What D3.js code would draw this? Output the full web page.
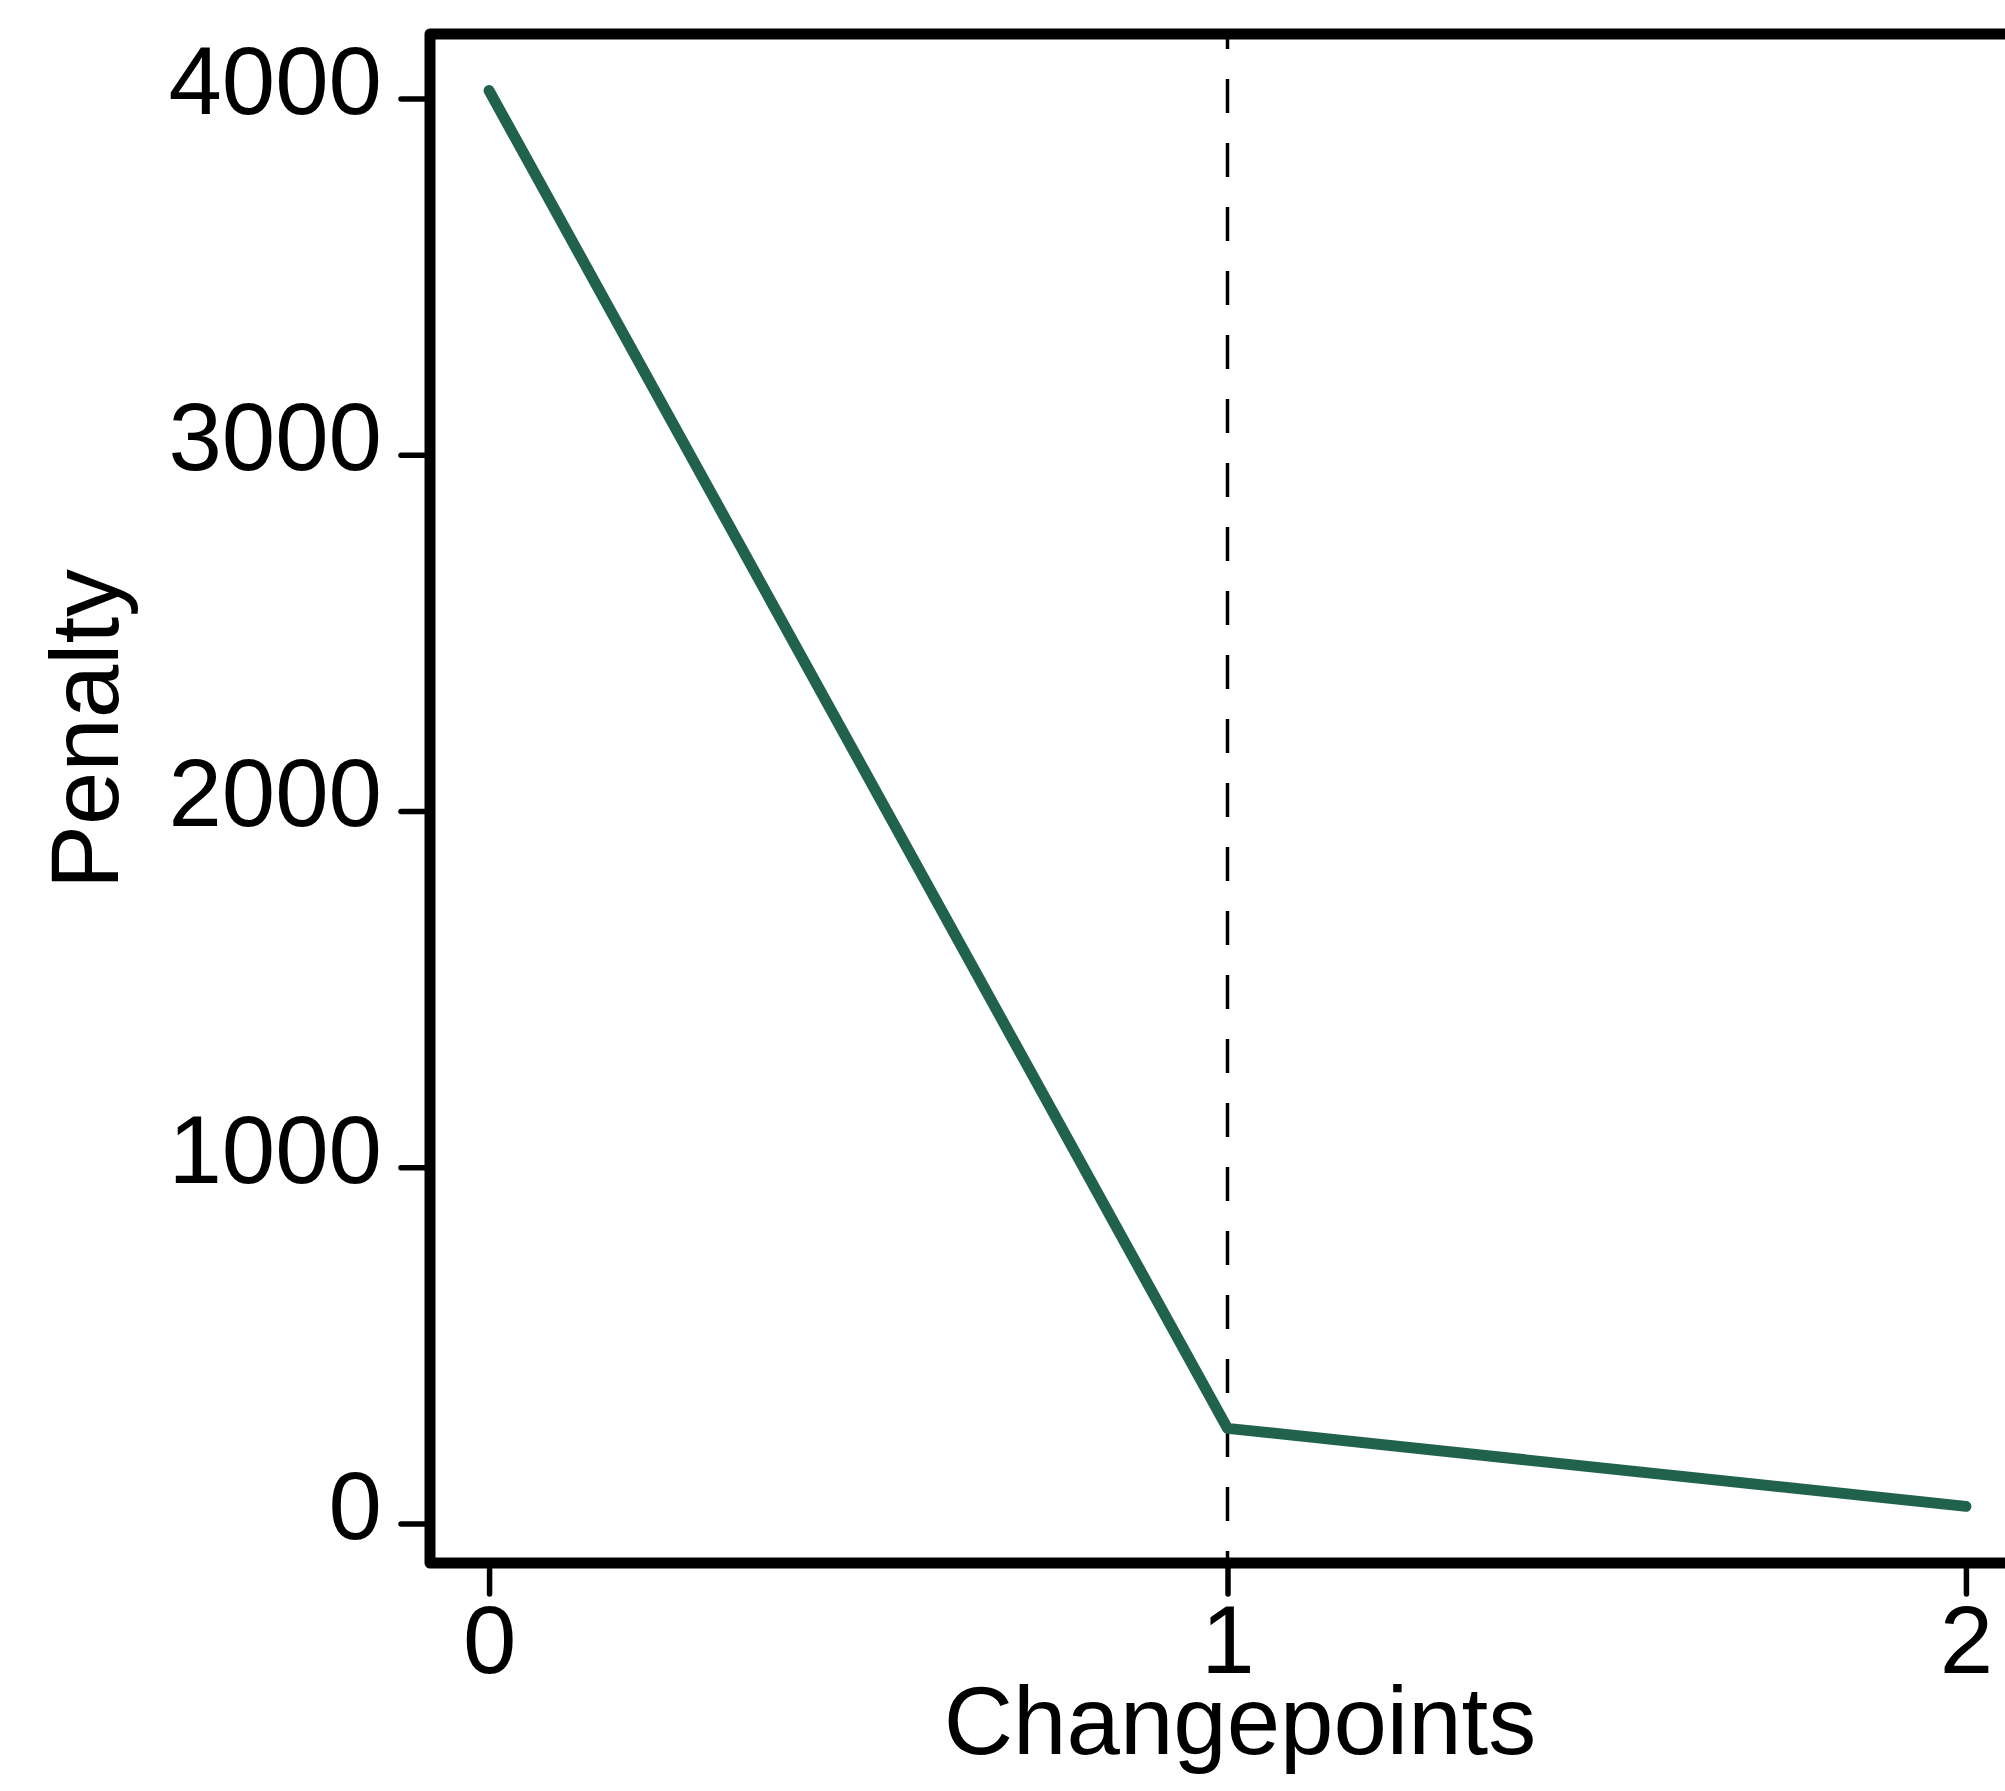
<!DOCTYPE html>
<html>
<head>
<meta charset="utf-8">
<script src="https://cdn.jsdelivr.net/npm/d3@7"></script>
<style>
    html, body { margin: 0; padding: 0; background: #fff; }
    svg { display: block; font-family: "Liberation Sans", Arial, sans-serif; }
</style>
</head>
<body>
<div id="chart"></div>
<script>
// data
const changepoints = [0, 1, 2];
const penalty = [4022, 267, 48];
const yTicks = [0, 1000, 2000, 3000, 4000];
const xTicks = [0, 1, 2];
const chosen = 1;

const W = 2005, H = 1791;

// plot box (R style, 4% padding on each side)
const box = { left: 430, top: 34, right: 2025, bottom: 1563 };

const xPad = (d3.max(changepoints) - d3.min(changepoints)) * 0.04;
const yPad = (d3.max(penalty) - d3.min(penalty)) * 0.04;

const x = d3.scaleLinear()
    .domain([d3.min(changepoints) - xPad, d3.max(changepoints) + xPad])
    .range([box.left, box.right]);
const y = d3.scaleLinear()
    .domain([d3.min(penalty) - yPad, d3.max(penalty) + yPad])
    .range([box.bottom, box.top]);

const svg = d3.select('#chart').append('svg')
    .attr('width', W)
    .attr('height', H);

// dashed vertical line at the chosen number of changepoints
svg.append('line')
    .attr('x1', x(chosen)).attr('x2', x(chosen))
    .attr('y1', box.top).attr('y2', box.bottom)
    .attr('stroke', '#000')
    .attr('stroke-width', 3.5)
    .attr('stroke-dasharray', '34,30')
    .attr('stroke-dashoffset', 19);

// the penalty line
const line = d3.line()
    .x((d, i) => x(changepoints[i]))
    .y(d => y(d));

svg.append('path')
    .datum(penalty)
    .attr('d', line)
    .attr('fill', 'none')
    .attr('stroke', '#21624c')
    .attr('stroke-width', 11)
    .attr('stroke-linecap', 'round')
    .attr('stroke-linejoin', 'round');

// Y axis
const yAxis = d3.axisLeft(y)
    .tickValues(yTicks)
    .tickSize(29)
    .tickFormat(d3.format('d'));

const gy = svg.append('g')
    .attr('transform', `translate(${box.left},0)`)
    .call(yAxis);
gy.select('.domain').remove();
gy.selectAll('.tick line')
    .attr('stroke', '#000')
    .attr('stroke-width', 5.5)
    .attr('stroke-linecap', 'round');
gy.selectAll('.tick text')
    .attr('x', -48)
    .attr('dy', 15)
    .attr('fill', '#000')
    .style('font-size', '96px')
    .style('font-family', '"Liberation Sans", Arial, sans-serif');

// X axis
const xAxis = d3.axisBottom(x)
    .tickValues(xTicks)
    .tickSize(31)
    .tickFormat(d3.format('d'));

const gx = svg.append('g')
    .attr('transform', `translate(0,${box.bottom})`)
    .call(xAxis);
gx.select('.domain').remove();
gx.selectAll('.tick line')
    .attr('stroke', '#000')
    .attr('stroke-width', 5.5)
    .attr('stroke-linecap', 'round');
gx.selectAll('.tick text')
    .attr('y', 110)
    .attr('dy', 0)
    .attr('fill', '#000')
    .style('font-size', '96px')
    .style('font-family', '"Liberation Sans", Arial, sans-serif');

// plot box
svg.append('rect')
    .attr('x', box.left)
    .attr('y', box.top)
    .attr('width', box.right - box.left)
    .attr('height', box.bottom - box.top)
    .attr('fill', 'none')
    .attr('stroke', '#000')
    .attr('stroke-width', 11)
    .attr('stroke-linejoin', 'round');

// axis titles
svg.append('text')
    .attr('x', 1240)
    .attr('y', 1754)
    .attr('text-anchor', 'middle')
    .style('font-size', '96px')
    .text('Changepoints');

svg.append('text')
    .attr('transform', 'translate(118,729) rotate(-90)')
    .attr('text-anchor', 'middle')
    .style('font-size', '96px')
    .text('Penalty');
</script>
</body>
</html>
